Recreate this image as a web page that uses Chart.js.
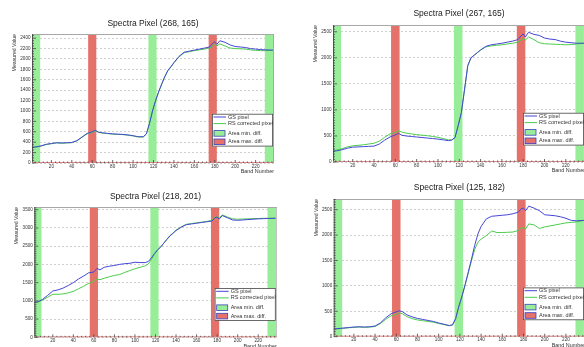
<!DOCTYPE html>
<html><head><meta charset="utf-8">
<script src="https://cdn.jsdelivr.net/npm/chart.js@4.4.1/dist/chart.umd.min.js"></script>
<style>
html,body{margin:0;padding:0;background:#fff;overflow:hidden;width:584px;height:347px;}
.p{position:absolute;}
canvas{display:block;}
</style></head><body>
<div class="p" style="left:0px;top:0px"><canvas id="c1" width="292" height="174"></canvas></div>
<div class="p" style="left:292px;top:0px"><canvas id="c2" width="300" height="174"></canvas></div>
<div class="p" style="left:0px;top:174px"><canvas id="c3" width="292" height="173"></canvas></div>
<div class="p" style="left:292px;top:174px"><canvas id="c4" width="300" height="173"></canvas></div>
<script>
// ---------- data ----------
const bands = [1,5,10,15,20,25,30,35,40,45,50,55,60,63,66,70,75,80,85,90,95,100,105,110,113,116,119,122,125,128,131,134,137,140,145,150,155,160,165,170,175,178,180,182,185,190,195,200,205,210,215,220,225,230,237];

const gs_268_165 = [300,310,330,360,375,390,385,390,395,430,500,570,600,630,595,580,570,560,555,550,540,525,505,505,560,760,1000,1200,1370,1520,1660,1780,1850,1930,2050,2130,2150,2170,2190,2210,2230,2300,2330,2280,2350,2320,2270,2240,2230,2220,2200,2190,2180,2175,2170];
const rs_268_165 = [295,305,325,355,370,385,380,385,390,425,495,560,590,615,590,575,565,555,550,545,535,520,500,500,555,750,990,1190,1360,1510,1650,1770,1845,1925,2040,2120,2140,2160,2175,2190,2210,2250,2290,2250,2290,2250,2210,2200,2195,2190,2175,2165,2160,2160,2165];

const gs_267_165 = [205,215,235,265,285,290,295,300,305,345,420,480,520,550,515,500,490,480,470,460,450,440,425,410,420,470,700,950,1400,1850,2000,2050,2100,2150,2220,2250,2265,2280,2300,2320,2350,2420,2460,2400,2490,2450,2430,2380,2360,2350,2320,2300,2290,2280,2280];
const rs_267_165 = [215,230,255,290,310,320,330,345,360,400,475,540,570,600,575,555,540,525,515,505,490,475,450,425,425,470,700,950,1400,1850,2000,2050,2100,2150,2210,2230,2240,2250,2265,2280,2300,2340,2370,2340,2400,2350,2290,2270,2265,2260,2255,2250,2255,2265,2280];

const gs_218_201 = [960,970,1040,1150,1270,1300,1350,1420,1500,1600,1680,1770,1790,1890,1850,1920,1950,1970,2000,2020,2030,2060,2050,2050,2080,2180,2300,2400,2480,2580,2680,2780,2850,2930,3020,3090,3110,3130,3150,3170,3190,3280,3300,3240,3340,3280,3220,3210,3220,3230,3240,3250,3255,3260,3265];
const rs_218_201 = [950,960,1020,1100,1180,1180,1190,1220,1260,1330,1400,1480,1530,1600,1580,1620,1660,1700,1720,1780,1830,1880,1920,1960,2010,2140,2280,2390,2470,2580,2690,2790,2860,2940,3030,3100,3120,3140,3160,3180,3210,3300,3310,3270,3360,3300,3250,3240,3245,3250,3255,3260,3265,3265,3270];

const gs_125_182 = [150,160,170,180,190,195,190,195,210,270,370,450,490,510,490,430,390,360,340,320,300,270,245,220,235,360,600,800,1030,1280,1530,1800,2020,2170,2320,2370,2380,2390,2400,2420,2450,2520,2530,2480,2570,2530,2480,2400,2390,2380,2360,2330,2290,2280,2290];
const rs_125_182 = [150,155,165,175,185,190,185,190,200,260,340,410,440,470,450,395,355,330,315,300,285,260,240,215,225,340,580,790,1020,1260,1500,1720,1860,1920,1990,2080,2050,2050,2055,2060,2090,2150,2140,2120,2220,2200,2130,2160,2180,2200,2220,2240,2250,2260,2290];

const minDiffAreas = [[1,9],[115,123],[229,237]];
const maxDiffAreas = [[56,64],[174,182]];
const xTickLabels = [20,40,60,80,100,120,140,160,180,200,220];
const legendLabels = ['GS pixel','RS corrected pixel','Area min. diff.','Area max. diff.'];

// ---------- styles / layout ----------
const F = '"Liberation Sans", Arial, sans-serif';
const BLUE = '#4646d6', GREEN = '#4ccc4c';
const GREEN_FILL = 'rgb(152,238,152)', RED_FILL = 'rgb(228,114,106)';

const panels = [
  {id:'c1', title:'Spectra Pixel (268, 165)', gs:gs_268_165, rs:rs_268_165, yMax:2480, yStep:200, xMin:1, xMax:238, W:292, H:174, L:32, T:34, R:274, B:163, titleY:24},
  {id:'c2', title:'Spectra Pixel (267, 165)', gs:gs_267_165, rs:rs_267_165, yMax:2630, yStep:500, xMin:1.5, xMax:238, W:300, H:174, L:41, T:25, R:293, B:162, titleY:14},
  {id:'c3', title:'Spectra Pixel (218, 201)', gs:gs_218_201, rs:rs_218_201, yMax:3575, yStep:500, xMin:2, xMax:238, W:292, H:173, L:34.3, T:33, R:276.7, B:163.3, titleY:23},
  {id:'c4', title:'Spectra Pixel (125, 182)', gs:gs_125_182, rs:rs_125_182, yMax:2710, yStep:500, xMin:1, xMax:238, W:300, H:173, L:41.7, T:25, R:293, B:162.7, titleY:14}
];

function yTicksFor(p){ const t=[]; for(let v=0; v<=p.yMax; v+=p.yStep) t.push(v); return t; }

const rootPlugin = {
  id:'rootStyle',
  beforeDatasetsDraw(chart){
    const {ctx, chartArea:ca, scales:{x}} = chart;
    ctx.save();
    ctx.beginPath(); ctx.rect(ca.left, ca.top, ca.right-ca.left, ca.bottom-ca.top); ctx.clip();
    const fill = (arr,col)=>arr.forEach(([a,b])=>{
      const x0=x.getPixelForValue(a), x1=x.getPixelForValue(b);
      ctx.fillStyle=col; ctx.fillRect(x0, ca.top, x1-x0, ca.bottom-ca.top);
    });
    fill(minDiffAreas, GREEN_FILL);
    fill(maxDiffAreas, RED_FILL);
    ctx.restore();
  },
  afterDatasetsDraw(chart){
    const p = chart.options.plugins.rootStyle.panel;
    const {ctx, chartArea:ca, scales:{x,y}} = chart;
    ctx.save();
    // frame
    ctx.lineWidth = 1;
    ctx.strokeStyle = '#a8a8a8';
    ctx.beginPath(); ctx.moveTo(ca.left, ca.top+0.5); ctx.lineTo(ca.right, ca.top+0.5); ctx.moveTo(ca.right-0.5, ca.top); ctx.lineTo(ca.right-0.5, ca.bottom); ctx.stroke();
    ctx.strokeStyle = '#555';
    ctx.beginPath(); ctx.moveTo(ca.left+0.5, ca.top); ctx.lineTo(ca.left+0.5, ca.bottom); ctx.stroke();
    ctx.strokeStyle = '#df8c8c';
    ctx.beginPath(); ctx.moveTo(ca.left, ca.bottom-0.5); ctx.lineTo(ca.right, ca.bottom-0.5); ctx.stroke();
    // y ticks
    ctx.strokeStyle = '#444'; ctx.lineWidth = 0.8;
    ctx.beginPath();
    for(let v=0; v<=p.yMax; v+=50){
      const py = y.getPixelForValue(v);
      const len = (v % p.yStep === 0) ? 4 : 2;
      ctx.moveTo(ca.left, py); ctx.lineTo(ca.left+len, py);
    }
    for(let v=4; v<=p.xMax; v+=4){
      const px = x.getPixelForValue(v);
      const len = (v % 20 === 0) ? 3 : 1.5;
      ctx.moveTo(px, ca.bottom); ctx.lineTo(px, ca.bottom-len);
    }
    ctx.stroke();
    // title
    ctx.fillStyle = '#1a1a1a';
    ctx.font = '8.5px ' + F;
    ctx.textAlign = 'center'; ctx.textBaseline = 'middle';
    ctx.fillText(p.title, (ca.left+ca.right)/2, p.titleY);
    // axis titles
    ctx.fillStyle = '#333';
    ctx.font = '5.2px ' + F;
    ctx.save();
    ctx.translate(ca.left-17.5, ca.top);
    ctx.rotate(-Math.PI/2);
    ctx.textAlign='right'; ctx.textBaseline='middle';
    ctx.fillText('Measured Value', 0, 0);
    ctx.restore();
    ctx.font = '5.4px ' + F;
    ctx.textAlign='right'; ctx.textBaseline='middle';
    ctx.fillText('Band Number', ca.right, ca.bottom+9);
    // legend
    const lw = 61, lh = 32.7;
    const lx = ca.right - 1 - lw, ly = ca.bottom - 16.5 - lh;
    ctx.fillStyle = '#fff'; ctx.fillRect(lx, ly, lw, lh);
    ctx.strokeStyle = '#444'; ctx.lineWidth = 0.8; ctx.strokeRect(lx+0.4, ly+0.4, lw-0.8, lh-0.8);
    const rows = [3.2, 9.8, 19.6, 28.0];
    ctx.font = '5.5px ' + F; ctx.textAlign='left'; ctx.textBaseline='middle';
    // line entries
    [[BLUE,0],[GREEN,1]].forEach(([c,i])=>{
      ctx.strokeStyle=c; ctx.lineWidth=1;
      ctx.beginPath(); ctx.moveTo(lx+1.5, ly+rows[i]); ctx.lineTo(lx+14, ly+rows[i]); ctx.stroke();
    });
    [[GREEN_FILL,2],[RED_FILL,3]].forEach(([c,i])=>{
      ctx.fillStyle=c; ctx.fillRect(lx+2, ly+rows[i]-2.8, 11, 5.6);
      ctx.strokeStyle='#3c3cc0'; ctx.lineWidth=0.8; ctx.strokeRect(lx+2, ly+rows[i]-2.8, 11, 5.6);
    });
    ctx.fillStyle='#333';
    legendLabels.forEach((t,i)=>ctx.fillText(t, lx+16, ly+rows[i]));
    ctx.restore();
  }
};

panels.forEach(p=>{
  const yt = yTicksFor(p);
  new Chart(document.getElementById(p.id), {
    type:'line',
    data:{ datasets:[
      {label:'GS pixel', data:bands.map((b,i)=>({x:b,y:p.gs[i]})), borderColor:BLUE, borderWidth:1, pointRadius:0, tension:0, fill:false},
      {label:'RS corrected pixel', data:bands.map((b,i)=>({x:b,y:p.rs[i]})), borderColor:GREEN, borderWidth:1, pointRadius:0, tension:0, fill:false}
    ]},
    options:{
      responsive:false, animation:false, devicePixelRatio:1,
      layout:{padding:{top:p.T, right:p.W-p.R, left:0, bottom:0}},
      plugins:{legend:{display:false}, title:{display:false}, tooltip:{enabled:false}, rootStyle:{panel:p}},
      scales:{
        x:{type:'linear', min:p.xMin, max:p.xMax,
           afterFit(s){ s.height = p.H - p.B; },
           afterBuildTicks(s){ s.ticks = xTickLabels.map(v=>({value:v})); },
           grid:{display:false, drawTicks:false}, border:{display:false},
           ticks:{font:{size:4.6, family:F}, color:'#333', padding:0.5, autoSkip:false, maxRotation:0, callback:v=>String(v)}},
        y:{type:'linear', min:0, max:p.yMax,
           afterFit(s){ s.width = p.L; },
           afterBuildTicks(s){ s.ticks = yt.map(v=>({value:v})); },
           grid:{color:'#bdbdbd', lineWidth:0.7, drawTicks:false}, border:{display:false, dash:[2,2]},
           ticks:{font:{size:4.6, family:F}, color:'#333', padding:1.5, callback:v=>String(v)}}
      }
    },
    plugins:[rootPlugin]
  });
});
</script>
</body></html>
